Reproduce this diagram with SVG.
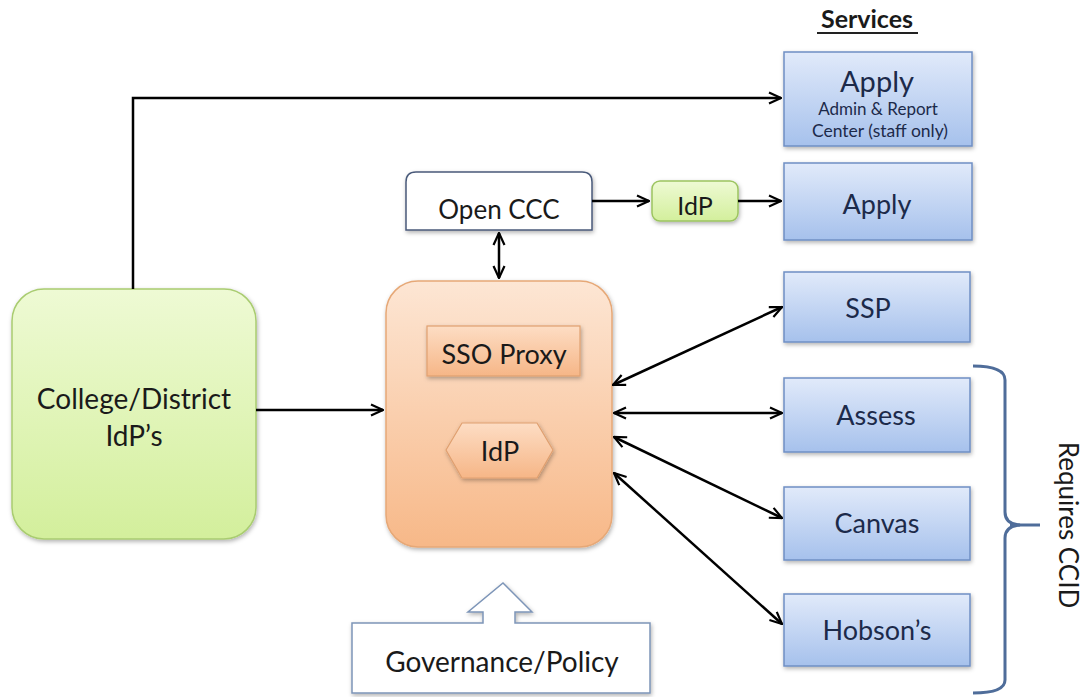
<svg xmlns="http://www.w3.org/2000/svg" width="1083" height="697" viewBox="0 0 1083 697">
<defs>
<linearGradient id="gBlue" x1="0" y1="0" x2="0" y2="1"><stop offset="0" stop-color="#e1eafa"/><stop offset="1" stop-color="#a6c1ec"/></linearGradient>
<linearGradient id="gOrange" x1="0" y1="0" x2="0" y2="1"><stop offset="0" stop-color="#fde6d4"/><stop offset="1" stop-color="#f7b888"/></linearGradient>
<linearGradient id="gOrange2" x1="0" y1="0" x2="0" y2="1"><stop offset="0" stop-color="#fdddc4"/><stop offset="1" stop-color="#f6b687"/></linearGradient>
<linearGradient id="gGreen" x1="0" y1="0" x2="0" y2="1"><stop offset="0" stop-color="#eefad4"/><stop offset="1" stop-color="#d3ef9c"/></linearGradient>
<filter id="sh" x="-10%" y="-10%" width="130%" height="130%"><feDropShadow dx="1" dy="2" stdDeviation="2" flood-color="#000" flood-opacity="0.3"/></filter>
<marker id="ah" viewBox="0 0 14 14" refX="13" refY="7" markerWidth="14" markerHeight="14" markerUnits="userSpaceOnUse" orient="auto-start-reverse"><path d="M1,1.5 L13,7 L1,12.5" fill="none" stroke="#000" stroke-width="2.2"/></marker>
<style>
.t{font-family:Lato,"Open Sans",sans-serif;fill:#1a1a1a;text-anchor:middle}
.tb{font-family:Lato,"Open Sans",sans-serif;fill:#1c2a4a;text-anchor:middle}
.blue{fill:url(#gBlue);stroke:#6f8fc4;stroke-width:1.5;filter:url(#sh)}
.c{fill:none;stroke:#000;stroke-width:2.5}
</style>
</defs>
<text x="867" y="28" class="t" font-size="25" font-weight="bold" fill="#222">Services</text>
<line x1="817" y1="33" x2="918" y2="33" stroke="#222" stroke-width="2"/>

<g id="apply-admin"><rect x="784" y="52" width="188" height="94" class="blue"/>
<text x="877" y="92" class="tb" font-size="29">Apply</text>
<text x="878" y="115" class="tb" font-size="17">Admin &amp; Report</text>
<text x="880" y="137" class="tb" font-size="17.5">Center (staff only)</text></g>
<g id="apply"><rect x="784" y="163" width="188" height="77" class="blue"/><text x="877" y="214" class="tb" font-size="27">Apply</text></g>
<g id="ssp"><rect x="784" y="272" width="186" height="70" class="blue"/><text x="868" y="318" class="tb" font-size="27">SSP</text></g>
<g id="assess"><rect x="784" y="378" width="186" height="74" class="blue"/><text x="876" y="425" class="tb" font-size="27">Assess</text></g>
<g id="canvas"><rect x="784" y="487" width="186" height="73" class="blue"/><text x="877" y="533" class="tb" font-size="27">Canvas</text></g>
<g id="hobsons"><rect x="784" y="594" width="186" height="72" class="blue"/><text x="877" y="640" class="tb" font-size="27">Hobson’s</text></g>

<g id="open-ccc"><path d="M406,230 V182 Q406,172 416,172 H582 Q592,172 592,182 V230 Z" fill="#fff" stroke="#4a5a7a" stroke-width="1.5" filter="url(#sh)"/><text x="499" y="219" class="t" font-size="26">Open CCC</text></g>
<g id="idp-green"><rect x="652" y="181" width="86" height="40" rx="8" fill="url(#gGreen)" stroke="#9cc460" stroke-width="1.5" filter="url(#sh)"/><text x="695" y="215" class="t" font-size="25">IdP</text></g>

<g id="sso-hub"><rect x="386" y="281" width="226" height="266" rx="32" fill="url(#gOrange)" stroke="#e6a877" stroke-width="1.5" filter="url(#sh)"/>
<rect x="427" y="326" width="153" height="50" fill="url(#gOrange2)" stroke="#e0a070" stroke-width="1.2" filter="url(#sh)"/>
<text x="504" y="364" class="t" font-size="27">SSO Proxy</text>
<polygon points="446,450 462,423 537,423 553,450 537,478 462,478" fill="url(#gOrange2)" stroke="#e0a070" stroke-width="1.2" filter="url(#sh)"/>
<text x="500" y="461" class="t" font-size="27">IdP</text></g>

<g id="college"><rect x="12" y="289" width="244" height="250" rx="32" fill="url(#gGreen)" stroke="#a9cc70" stroke-width="1.5" filter="url(#sh)"/>
<text x="134" y="409" class="t" font-size="28">College/District</text>
<text x="134" y="446" class="t" font-size="28">IdP’s</text></g>

<g id="governance"><path d="M352,623 H483 V612 H468 L503,583 L532,612 H515 V623 H650 V693 H352 Z" fill="#fff" stroke="#7d95b8" stroke-width="1.5" filter="url(#sh)"/>
<text x="502" y="672" class="t" font-size="28">Governance/Policy</text></g>

<g id="bracket"><path d="M973,366 Q1005,366 1005,380 V512 Q1005,524 1020,525 Q1005,526 1005,538 V680 Q1005,693 973,693" fill="none" stroke="#4f6d9a" stroke-width="3"/><path d="M1010,525 H1040" stroke="#4f6d9a" stroke-width="3" fill="none"/>
<text x="0" y="0" transform="translate(1059,525) rotate(90)" class="t" font-size="26" fill="#222">Requires CCID</text></g>

<g id="connectors">
<path class="c" d="M133,289 V98 H781" marker-end="url(#ah)"/>
<path class="c" d="M256,410 H383" marker-end="url(#ah)"/>
<path class="c" d="M499,233 V278" marker-start="url(#ah)" marker-end="url(#ah)"/>
<path class="c" d="M592,201 H649" marker-end="url(#ah)"/>
<path class="c" d="M738,201 H781" marker-end="url(#ah)"/>
<path class="c" d="M613,385 L782,307" marker-start="url(#ah)" marker-end="url(#ah)"/>
<path class="c" d="M614,413 H782" marker-start="url(#ah)" marker-end="url(#ah)"/>
<path class="c" d="M614,437 L782,518" marker-start="url(#ah)" marker-end="url(#ah)"/>
<path class="c" d="M614,473 L782,624" marker-start="url(#ah)" marker-end="url(#ah)"/>
</g>
</svg>
